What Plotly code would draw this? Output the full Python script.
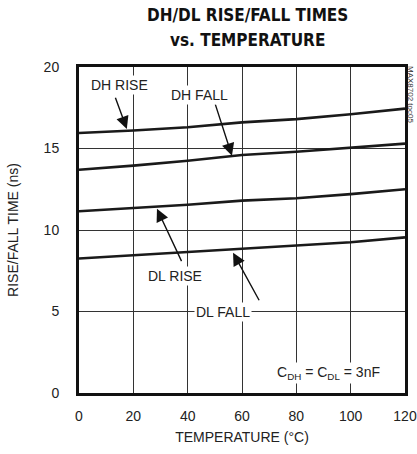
import plotly.graph_objects as go

temps = [0, 20, 40, 60, 80, 100, 120]
dh_rise = [15.95, 16.1, 16.3, 16.6, 16.8, 17.1, 17.45]
dh_fall = [13.7, 13.95, 14.25, 14.6, 14.8, 15.05, 15.3]
dl_rise = [11.15, 11.35, 11.55, 11.8, 11.95, 12.2, 12.5]
dl_fall = [8.25, 8.45, 8.65, 8.85, 9.05, 9.25, 9.55]
x_ticks = [0, 20, 40, 60, 80, 100, 120]
y_ticks = [0, 5, 10, 15, 20]

FONT = "Liberation Sans Narrow, Arial Narrow, Liberation Sans, sans-serif"
TFONT = "DejaVu Sans Condensed, Liberation Sans Narrow, sans-serif"

fig = go.Figure()
for ys in (dh_rise, dh_fall, dl_rise, dl_fall):
    fig.add_trace(go.Scatter(x=temps, y=ys, mode="lines",
                             line=dict(color="#1a1a1a", width=2.6),
                             showlegend=False, hoverinfo="skip"))

labels = [
    ("DH RISE", 15, 18.9, 13.2, 18.2, 17.6, 16.2),
    ("DH FALL", 44.5, 18.3, 50, 17.8, 56.3, 14.55),
    ("DL RISE", 35.5, 7.2, 38, 8.0, 28.7, 11.3),
    ("DL FALL", 53, 5.0, 66.6, 5.6, 56.7, 8.6),
]
for text, lx, ly, tx, ty, hx, hy in labels:
    fig.add_annotation(x=hx, y=hy, ax=tx, ay=ty, xref="x", yref="y",
                       axref="x", ayref="y", text="", showarrow=True,
                       arrowhead=2, arrowsize=1.8, arrowwidth=1.4,
                       arrowcolor="#111")
    fig.add_annotation(x=lx, y=ly, text=text, showarrow=False,
                       font=dict(family=FONT, size=14, color="#222"),
                       bgcolor="white", borderpad=1)

fig.add_annotation(x=92, y=1.2, text="C<sub>DH</sub> = C<sub>DL</sub> = 3nF",
                   showarrow=False, font=dict(family=FONT, size=14, color="#222"),
                   bgcolor="white", borderpad=1)

fig.add_annotation(x=(410 - 79) / 326, y=(393 - 95) / 326, xref="paper", yref="paper",
                   xanchor="center", yanchor="middle",
                   text="MAX8702 toc05", textangle=90,
                   showarrow=False, font=dict(family=FONT, size=8, color="#333"))

title_lines = [("DH/DL RISE/FALL TIMES", 15), ("vs. TEMPERATURE", 40)]
for txt, ypx in title_lines:
    fig.add_annotation(x=(247 - 79) / 326, y=(393 - ypx) / 326,
                       xref="paper", yref="paper",
                       xanchor="center", yanchor="middle",
                       text="<b>%s</b>" % txt, showarrow=False,
                       font=dict(family=TFONT, size=17, color="#111"))

fig.update_layout(
    width=417, height=454,
    margin=dict(l=79, r=12, t=67, b=61),
    paper_bgcolor="white", plot_bgcolor="white",
    font=dict(family=FONT, size=14, color="#222"),
)

fig.update_xaxes(range=[0, 120], tickvals=x_ticks, showgrid=True,
                 gridcolor="#333", gridwidth=1, zeroline=False, automargin=False,
                 showline=True, linecolor="#111", linewidth=3, mirror=True,
                 ticks="", ticklen=0, ticklabelstandoff=8,
                 title=dict(text="TEMPERATURE (°C)", standoff=10,
                            font=dict(family=FONT, size=14)))
fig.update_yaxes(range=[0, 20], tickvals=y_ticks, showgrid=True,
                 gridcolor="#333", gridwidth=1, zeroline=False, automargin=False,
                 showline=True, linecolor="#111", linewidth=3, mirror=True,
                 ticks="", ticklen=0, ticklabelstandoff=14,
                 title=dict(text="RISE/FALL TIME (ns)", standoff=22,
                            font=dict(family=FONT, size=14)))

fig.write_html("out.html")
